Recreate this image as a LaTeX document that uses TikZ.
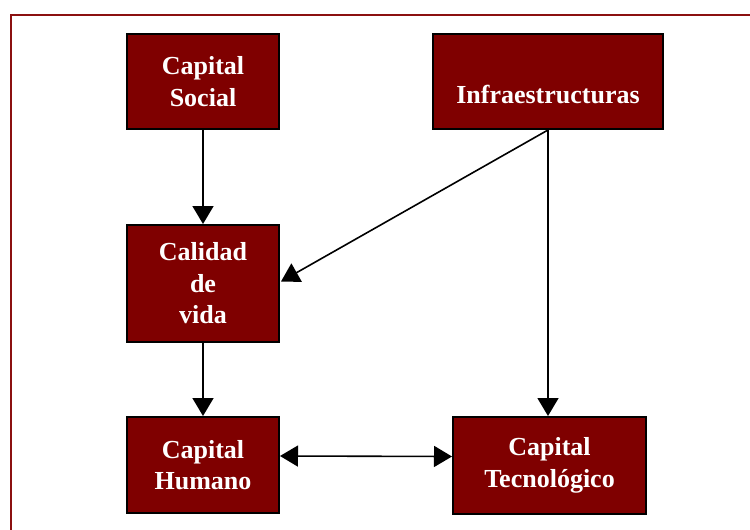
\documentclass[tikz,border=0pt]{standalone}
\usepackage{fontspec}
\setmainfont{Liberation Serif}
\usetikzlibrary{arrows.meta,calc}
\definecolor{boxred}{HTML}{7F0000}
\definecolor{framered}{HTML}{8B1010}
\tikzset{
  box/.style={draw=black, line width=2pt, fill=boxred, text=white,
    font=\fontsize{26}{31.5}\selectfont\bfseries, align=center,
    inner sep=0pt, minimum width=#1},
  arr/.style={line width=1.6pt, -{Triangle[length=18pt,width=21pt]}},
  darr/.style={line width=1.6pt, {Triangle[length=18pt,width=21pt]}-{Triangle[length=18pt,width=21pt]}}
}
\begin{document}
\begin{tikzpicture}[x=1pt,y=-1pt]
\useasboundingbox (0,0) rectangle (750,530);
\draw[framered, line width=2pt] (11,531) -- (11,15) -- (751,15);
\node[box=152pt, minimum height=95pt] (soc) at (203,81.5) {Capital\\Social};
\node[box=230pt, minimum height=95pt] (inf) at (548,81.5) {\raisebox{-13pt}[\height][\depth]{Infraestructuras}};
\node[box=152pt, minimum height=117pt] (cal) at (203,283.5) {Calidad\\de\\vida};
\node[box=152pt, minimum height=96pt] (hum) at (203,465) {Capital\\Humano};
\node[box=193pt, minimum height=97pt] (tec) at (549.5,465.5) {Capital\\Tecnológico};
\draw[arr] (soc.south) -- (cal.north);
\draw[arr] (inf.south) -- ($(cal.east)+(1,-2)$);
\draw[arr] (inf.south) -- (inf.south |- tec.north);
\draw[arr] (cal.south) -- (hum.north);
\draw[darr] ($(hum.east)+(0,-9)$) -- ($(tec.west)+(0,-9)$);
\end{tikzpicture}
\end{document}
